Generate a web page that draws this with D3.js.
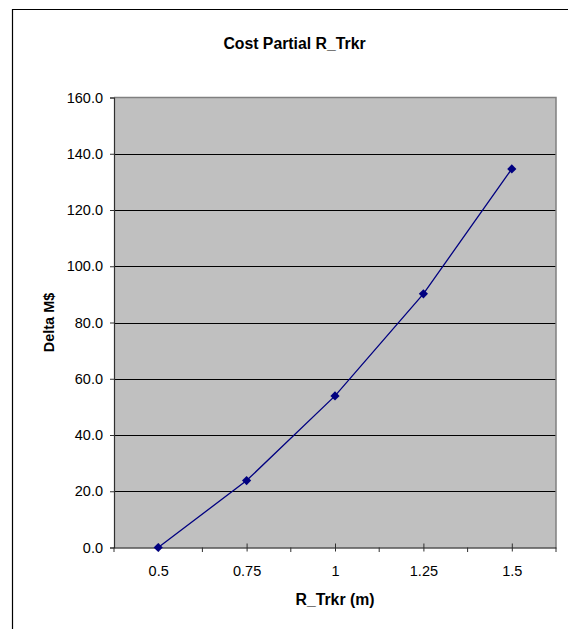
<!DOCTYPE html>
<html>
<head>
<meta charset="utf-8">
<script src="https://cdn.jsdelivr.net/npm/d3@7"></script>
<style>
  html, body { margin: 0; padding: 0; background: #fff; }
  svg { display: block; font-family: "Liberation Sans", Arial, Helvetica, sans-serif; }
</style>
</head>
<body>
<svg id="chart" width="568" height="629"></svg>
<script>
// Tracker radius (m) categories and cost delta (M$)
const categories = ["0.5", "0.75", "1", "1.25", "1.5"];
const deltaCost = [0.0, 23.8, 53.9, 90.2, 134.6];
const yTicks = [0, 20, 40, 60, 80, 100, 120, 140, 160];

const titleText = "Cost Partial R_Trkr";
const xTitle = "R_Trkr (m)";
const yTitle = "Delta M$";

const svg = d3.select("#chart");
const W = 568, H = 629;
const plot = { left: 114, top: 97.5, right: 556, bottom: 547.5 };

// Chart frame (only the left and top edges fall inside the page)
svg.append("line").attr("x1", 12.5).attr("x2", 12.5).attr("y1", 9).attr("y2", H)
  .attr("stroke", "#000").attr("stroke-width", 1.2);
svg.append("line").attr("x1", 12).attr("x2", W).attr("y1", 9.5).attr("y2", 9.5)
  .attr("stroke", "#000").attr("stroke-width", 1.2);

const x = d3.scalePoint().domain(categories).range([plot.left, plot.right]).padding(0.5);
const y = d3.scaleLinear().domain([0, 160]).range([plot.bottom, plot.top]);

// Plot area
svg.append("rect")
  .attr("x", plot.left).attr("y", plot.top)
  .attr("width", plot.right - plot.left).attr("height", plot.bottom - plot.top)
  .attr("fill", "#c0c0c0");

// Horizontal gridlines
svg.append("g").selectAll("line").data(yTicks.filter(d => d > 0 && d < 160)).join("line")
  .attr("x1", plot.left).attr("x2", plot.right)
  .attr("y1", d => Math.round(y(d)) + 0.5).attr("y2", d => Math.round(y(d)) + 0.5)
  .attr("stroke", "#000").attr("stroke-width", 1);

// Plot area border (top and right)
svg.append("path")
  .attr("d", `M${plot.left},${plot.top} H${plot.right} V${plot.bottom}`)
  .attr("fill", "none").attr("stroke", "#808080").attr("stroke-width", 1.5);

// Y axis
const yAxis = d3.axisLeft(y).tickValues(yTicks).tickSize(4).tickPadding(7)
  .tickFormat(d3.format(".1f"));
const gy = svg.append("g").attr("transform", `translate(${plot.left},0)`).call(yAxis);
gy.select(".domain").attr("stroke", "#303030").attr("stroke-width", 1.2);
gy.selectAll(".tick line").attr("stroke", "#303030");
gy.selectAll(".tick text").attr("font-size", 14.5).attr("fill", "#000")
  .attr("font-family", "Liberation Sans, Arial, sans-serif");

// X axis: category labels with crossing ticks, outside ticks at category boundaries
const step = x.step();
const xAxis = d3.axisBottom(x).tickSizeInner(4).tickSizeOuter(0).tickPadding(14);
const gx = svg.append("g").attr("transform", `translate(0,${plot.bottom})`).call(xAxis);
gx.select(".domain").attr("stroke", "#000").attr("stroke-width", 1.2);
gx.selectAll(".tick line").attr("y1", -4).attr("y2", 4).attr("stroke", "#303030");
gx.selectAll(".tick text").attr("font-size", 14.5).attr("fill", "#000")
  .attr("font-family", "Liberation Sans, Arial, sans-serif");
const bounds = d3.range(categories.length + 1).map(i => plot.left + i * step);
gx.append("g").selectAll("line").data(bounds).join("line")
  .attr("x1", d => d).attr("x2", d => d).attr("y1", 0).attr("y2", 4.5)
  .attr("stroke", "#303030").attr("stroke-width", 1);

// Series line and diamond markers
const pts = categories.map((c, i) => [x(c), y(deltaCost[i])]);
svg.append("path").datum(pts)
  .attr("d", d3.line())
  .attr("fill", "none").attr("stroke", "#000080").attr("stroke-width", 1.3);
svg.append("g").selectAll("path").data(pts).join("path")
  .attr("transform", d => `translate(${d[0]},${d[1]})`)
  .attr("d", "M0,-4.6L4.6,0L0,4.6L-4.6,0Z")
  .attr("fill", "#000080");

// Titles
svg.append("text").attr("x", 294.5).attr("y", 48.5).attr("text-anchor", "middle")
  .attr("font-size", 15.8).attr("font-weight", "bold").text(titleText);
svg.append("text").attr("x", 335).attr("y", 604.5).attr("text-anchor", "middle")
  .attr("font-size", 15.8).attr("font-weight", "bold").text(xTitle);
svg.append("text")
  .attr("transform", `translate(53.5,${(plot.top + plot.bottom) / 2}) rotate(-90)`)
  .attr("text-anchor", "middle")
  .attr("font-size", 14.5).attr("font-weight", "bold").text(yTitle);
</script>
</body>
</html>
